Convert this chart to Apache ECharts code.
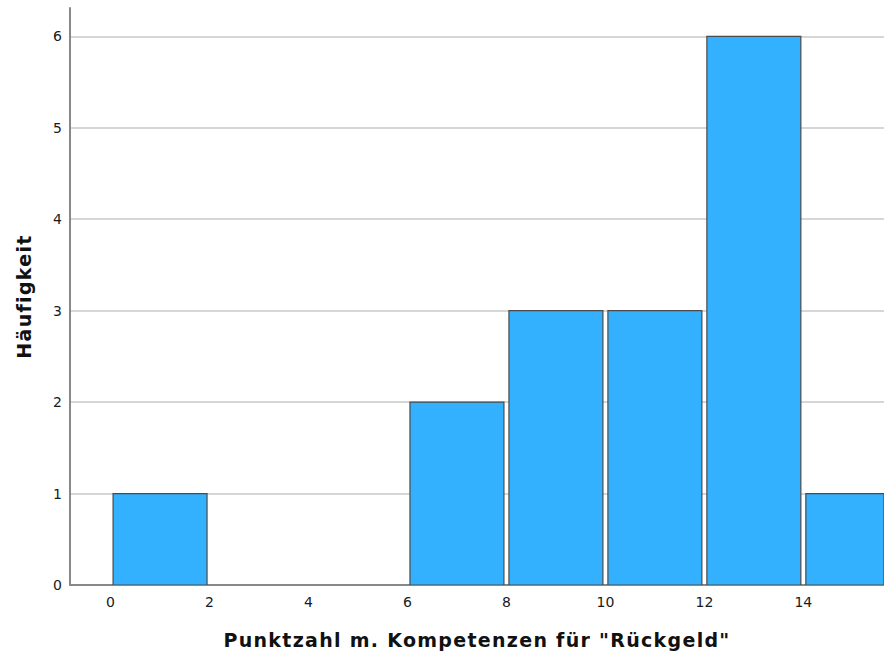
<!DOCTYPE html>
<html>
<head>
<meta charset="utf-8">
<script src="https://cdn.jsdelivr.net/npm/echarts@6/dist/echarts.min.js"></script>
<style>
html,body{margin:0;padding:0;background:#fff;}
#chart{width:884px;height:654px;}
#chart svg text[style*="bold"]{letter-spacing:1.3px;}
</style>
</head>
<body>
<div id="chart"></div>
<script>
// Histogram bins (start of each bin, width 2) and frequencies
const binStarts = [0, 2, 4, 6, 8, 10, 12, 14];
const binWidth = 2;
const counts = [1, 0, 0, 2, 3, 3, 6, 1];
const xTickLabels = [0, 2, 4, 6, 8, 10, 12, 14];
const yTickLabels = [0, 1, 2, 3, 4, 5, 6];
const xTitle = 'Punktzahl m. Kompetenzen für "Rückgeld"';
const yTitle = 'Häufigkeit';

const data = binStarts.map((s, i) => [s, s + binWidth, counts[i]]).filter(d => d[2] > 0);

const chart = echarts.init(document.getElementById('chart'), null, {renderer: 'svg'});
const gridColors = yTickLabels.map(() => '#c9c9c9').concat(['transparent', 'transparent']);

chart.setOption({
  animation: false,
  backgroundColor: '#ffffff',
  grid: {left: 70, right: 0, top: 8, bottom: 69, containLabel: false},
  xAxis: {
    type: 'value',
    min: -0.82,
    max: 15.63,
    name: xTitle,
    nameLocation: 'middle',
    nameGap: 45,
    nameTextStyle: {fontFamily: 'DejaVu Sans', fontWeight: 'bold', fontSize: 19, color: '#111', verticalAlign: 'top'},
    axisLine: {show: true, onZero: false, lineStyle: {color: '#888888', width: 2}},
    axisTick: {show: false},
    splitLine: {show: false},
    axisLabel: {
      customValues: xTickLabels,
      fontFamily: 'DejaVu Sans', fontSize: 14, color: '#1a1a1a', margin: 10
    }
  },
  yAxis: {
    type: 'value',
    min: 0,
    max: 6.31,
    interval: 1,
    name: yTitle,
    nameLocation: 'middle',
    nameGap: 37,
    nameRotate: 90,
    nameTextStyle: {fontFamily: 'DejaVu Sans', fontWeight: 'bold', fontSize: 19, color: '#111'},
    axisLine: {show: true, onZero: false, lineStyle: {color: '#888888', width: 2}},
    axisTick: {show: false},
    splitLine: {show: true, lineStyle: {color: gridColors, width: 1.5}},
    axisLabel: {
      fontFamily: 'DejaVu Sans', fontSize: 14, color: '#1a1a1a', margin: 8,
      formatter: v => (Number.isInteger(v) ? String(v) : '')
    }
  },
  series: [{
    type: 'custom',
    clip: true,
    data: data,
    encode: {x: [0, 1], y: 2},
    renderItem: function (params, api) {
      const p0 = api.coord([api.value(0), 0]);
      const p1 = api.coord([api.value(1), api.value(2)]);
      const inset = 2.5;
      const rect = {
        x: p0[0] + inset,
        y: p1[1],
        width: p1[0] - p0[0] - 2 * inset,
        height: p0[1] - p1[1]
      };
      return {
        type: 'rect',
        shape: echarts.graphic.clipRectByRect(rect, {
          x: params.coordSys.x, y: params.coordSys.y - 2,
          width: params.coordSys.width, height: params.coordSys.height + 2
        }),
        style: {fill: '#33b1ff', stroke: '#4a4a4a', lineWidth: 1.2}
      };
    }
  }]
});
</script>
</body>
</html>
